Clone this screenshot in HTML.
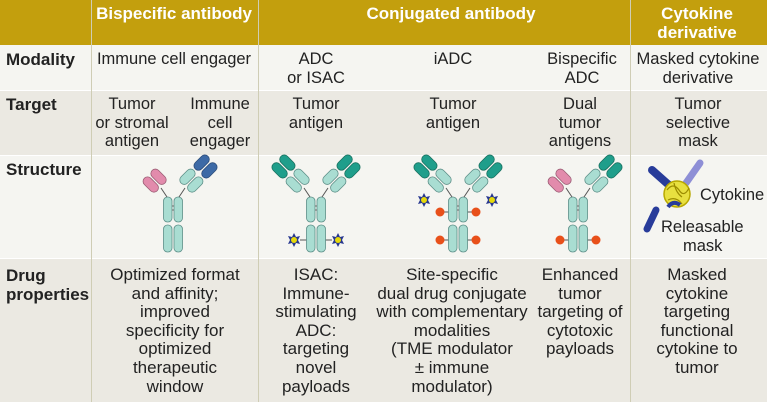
<!DOCTYPE html>
<html><head><meta charset="utf-8"><style>
*{margin:0;padding:0;box-sizing:border-box}
body{width:767px;height:402px;overflow:hidden;background:#f5f5f1;font-family:"Liberation Sans",sans-serif;color:#222;position:relative}
.b{position:absolute}
.t{position:absolute;text-align:center;font-size:16.5px;line-height:18.5px;white-space:nowrap;transform:translateX(-50%)}
.n{position:absolute;text-align:center;font-family:"Liberation Sans",sans-serif;font-size:17px;line-height:18.6px;white-space:nowrap;transform:translateX(-50%)}
.h{position:absolute;color:#fff;font-weight:bold;font-size:17px;line-height:19px;text-align:center;white-space:nowrap;transform:translateX(-50%)}
.l{position:absolute;left:6px;font-weight:bold;font-size:17px;line-height:19px}
</style></head><body>
<div class="b" style="left:0;top:0;width:767px;height:45px;background:#c39f0d"></div>
<div class="b" style="left:0;top:45px;width:767px;height:45px;background:#f5f5f1"></div>
<div class="b" style="left:0;top:91px;width:767px;height:64px;background:#ebe9e2"></div>
<div class="b" style="left:0;top:156px;width:767px;height:102px;background:#f5f5f1"></div>
<div class="b" style="left:0;top:259px;width:767px;height:143px;background:#ebe9e2"></div>
<div class="b" style="left:0;top:90px;width:767px;height:1px;background:#fff"></div>
<div class="b" style="left:0;top:155px;width:767px;height:1px;background:#fff"></div>
<div class="b" style="left:0;top:258px;width:767px;height:1px;background:#fff"></div>
<div class="b" style="left:91px;top:0;width:1px;height:402px;background:#cfcdb5"></div>
<div class="b" style="left:258px;top:0;width:1px;height:402px;background:#cfcdb5"></div>
<div class="b" style="left:630px;top:0;width:1px;height:402px;background:#cfcdb5"></div>

<div class="h" style="left:174px;top:4px">Bispecific antibody</div>
<div class="h" style="left:451px;top:4px">Conjugated antibody</div>
<div class="h" style="left:697px;top:4px">Cytokine<br>derivative</div>

<div class="l" style="top:50px">Modality</div>
<div class="l" style="top:95px">Target</div>
<div class="l" style="top:160px">Structure</div>
<div class="l" style="top:266px">Drug<br>properties</div>

<div class="t" style="left:174px;top:50px">Immune cell engager</div>
<div class="t" style="left:316px;top:50px">ADC<br>or ISAC</div>
<div class="t" style="left:453px;top:50px">iADC</div>
<div class="t" style="left:582px;top:50px">Bispecific<br>ADC</div>
<div class="t" style="left:698px;top:50px">Masked cytokine<br>derivative</div>

<div class="t" style="left:132px;top:95px">Tumor<br>or stromal<br>antigen</div>
<div class="t" style="left:220px;top:95px">Immune<br>cell<br>engager</div>
<div class="t" style="left:316px;top:95px">Tumor<br>antigen</div>
<div class="t" style="left:453px;top:95px">Tumor<br>antigen</div>
<div class="t" style="left:580px;top:95px">Dual<br>tumor<br>antigens</div>
<div class="t" style="left:698px;top:95px">Tumor<br>selective<br>mask</div>

<div class="n" style="left:175px;top:266px">Optimized format<br>and affinity;<br>improved<br>specificity for<br>optimized<br>therapeutic<br>window</div>
<div class="n" style="left:316px;top:266px">ISAC:<br>Immune-<br>stimulating<br>ADC:<br>targeting<br>novel<br>payloads</div>
<div class="n" style="left:452px;top:266px">Site-specific<br>dual drug conjugate<br>with complementary<br>modalities<br>(TME modulator<br>± immune<br>modulator)</div>
<div class="n" style="left:580px;top:266px">Enhanced<br>tumor<br>targeting of<br>cytotoxic<br>payloads</div>
<div class="n" style="left:697px;top:266px">Masked<br>cytokine<br>targeting<br>functional<br>cytokine to<br>tumor</div>

<svg class="b" style="left:0;top:0" width="767" height="402" viewBox="0 0 767 402">
<defs>
<g id="stem" stroke="#5d8f88" stroke-width="0.8" fill="#a9ddd2">
<rect x="-9.5" y="0" width="8.5" height="25" rx="4"/><rect x="1" y="0" width="8.5" height="25" rx="4"/>
<rect x="-9.5" y="28" width="8.5" height="27" rx="4"/><rect x="1" y="28" width="8.5" height="27" rx="4"/>
<line x1="-1" y1="9" x2="1" y2="9" stroke="#555"/><line x1="-1" y1="13" x2="1" y2="13" stroke="#555"/>
</g>
<g id="star"><polygon points="0,-7 2,-3 6,-4 4,0 6,4 2,3 0,7 -2,3 -6,4 -4,0 -6,-4 -2,-3" fill="#27378f"/><circle r="3" fill="#e6d90a"/></g>
<circle id="dot" r="4.5" fill="#e8501a"/>
<g id="tealR" stroke-width="0.8">
  <rect x="0" y="1" width="18" height="9" rx="4.5" fill="#a9ddd2" stroke="#5d8f88"/><rect x="20" y="1" width="18" height="9" rx="4.5" fill="#1f9e8b" stroke="#18705f"/>
  <rect x="0" y="-10" width="18" height="9" rx="4.5" fill="#a9ddd2" stroke="#5d8f88"/><rect x="20" y="-10" width="18" height="9" rx="4.5" fill="#1f9e8b" stroke="#18705f"/>
</g>
<g id="pinkL" stroke-width="0.8">
  <rect x="0" y="1" width="18" height="9" rx="4.5" fill="#e28bac" stroke="#9a5d74"/><rect x="0" y="-10" width="18" height="9" rx="4.5" fill="#e28bac" stroke="#9a5d74"/>
</g>
</defs>
<!-- bispecific at 173 -->
<g transform="translate(173,197)">
 <use href="#stem"/>
 <line x1="-6" y1="0" x2="-12" y2="-9" stroke="#555"/><line x1="6" y1="0" x2="12" y2="-9" stroke="#555"/>
 <use href="#pinkL" transform="translate(-12,-10) rotate(-135)"/>
 <g transform="translate(12,-10) rotate(-45)" stroke-width="0.8">
  <rect x="0" y="1" width="18" height="9" rx="4.5" fill="#a9ddd2" stroke="#5d8f88"/><rect x="20" y="1" width="18" height="9" rx="4.5" fill="#3d6aa6" stroke="#2c4d7a"/>
  <rect x="0" y="-10" width="18" height="9" rx="4.5" fill="#a9ddd2" stroke="#5d8f88"/><rect x="20" y="-10" width="18" height="9" rx="4.5" fill="#3d6aa6" stroke="#2c4d7a"/>
 </g>
</g>
<!-- ADC at 316 -->
<g transform="translate(316,197)">
 <line x1="-16" y1="43" x2="-9" y2="43" stroke="#555"/><line x1="16" y1="43" x2="9" y2="43" stroke="#555"/>
 <use href="#stem"/>
 <line x1="-6" y1="0" x2="-12" y2="-9" stroke="#555"/><line x1="6" y1="0" x2="12" y2="-9" stroke="#555"/>
 <use href="#tealR" transform="translate(12,-10) rotate(-45)"/>
 <use href="#tealR" transform="translate(-12,-10) rotate(-135)"/>
 <use href="#star" x="-22" y="43"/><use href="#star" x="22" y="43"/>
</g>
<!-- iADC at 458 -->
<g transform="translate(458,197)">
 <line x1="-14" y1="15" x2="-9" y2="15" stroke="#555"/><line x1="14" y1="15" x2="9" y2="15" stroke="#555"/>
 <line x1="-14" y1="43" x2="-9" y2="43" stroke="#555"/><line x1="14" y1="43" x2="9" y2="43" stroke="#555"/>
 <use href="#stem"/>
 <line x1="-6" y1="0" x2="-12" y2="-9" stroke="#555"/><line x1="6" y1="0" x2="12" y2="-9" stroke="#555"/>
 <use href="#tealR" transform="translate(12,-10) rotate(-45)"/>
 <use href="#tealR" transform="translate(-12,-10) rotate(-135)"/>
 <use href="#star" x="-34" y="3"/><use href="#star" x="34" y="3"/>
 <use href="#dot" x="-18" y="15"/><use href="#dot" x="18" y="15"/>
 <use href="#dot" x="-18" y="43"/><use href="#dot" x="18" y="43"/>
</g>
<!-- bispecific ADC at 578 -->
<g transform="translate(578,197)">
 <line x1="-14" y1="43" x2="-9" y2="43" stroke="#555"/><line x1="14" y1="43" x2="9" y2="43" stroke="#555"/>
 <use href="#stem"/>
 <line x1="-6" y1="0" x2="-12" y2="-9" stroke="#555"/><line x1="6" y1="0" x2="12" y2="-9" stroke="#555"/>
 <use href="#tealR" transform="translate(12,-10) rotate(-45)"/>
 <use href="#pinkL" transform="translate(-12,-10) rotate(-135)"/>
 <use href="#dot" x="-18" y="43"/><use href="#dot" x="18" y="43"/>
</g>
<!-- cytokine -->
<path d="M652,170 L670,186" stroke="#283c9a" stroke-width="8" stroke-linecap="round"/>
<path d="M700,163 L686,183" stroke="#8e8fd6" stroke-width="7" stroke-linecap="round"/>
<path d="M656,210 L647,229" stroke="#283c9a" stroke-width="7" stroke-linecap="round"/>
<circle cx="677" cy="194" r="13" fill="#e8e040" stroke="#b8a800" stroke-width="1.5"/>
<path d="M667,190 q6,-8 12,0 q5,8 10,-2 M668,200 q8,-4 14,4 M674,183 q2,10 8,14" stroke="#9c8c00" stroke-width="1.2" fill="none"/>
<path d="M668,207 q5,-7 12,-2" stroke="#283c9a" stroke-width="4" fill="none"/>
<text x="700" y="200" font-size="16.5" font-family="Liberation Sans,sans-serif" fill="#222">Cytokine</text>
<text x="661" y="232" font-size="16.5" font-family="Liberation Sans,sans-serif" fill="#222">Releasable</text>
<text x="683" y="251" font-size="16.5" font-family="Liberation Sans,sans-serif" fill="#222">mask</text>
</svg>
</body></html>
